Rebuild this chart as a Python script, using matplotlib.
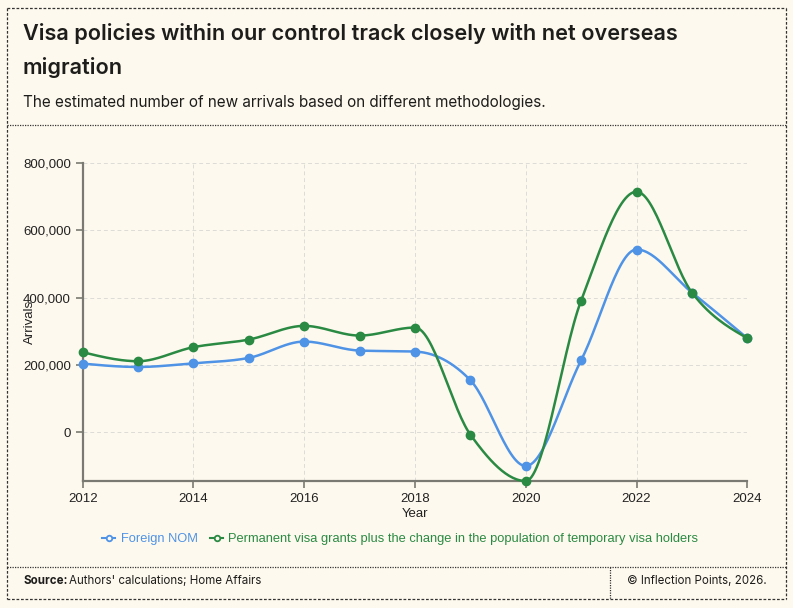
import numpy as np
import matplotlib
matplotlib.use("Agg")
import matplotlib.pyplot as plt
from matplotlib.lines import Line2D
from matplotlib.ticker import FuncFormatter

years = [2012, 2013, 2014, 2015, 2016, 2017, 2018, 2019, 2020, 2021, 2022, 2023, 2024]
foreign_nom = [204000, 194000, 205000, 221000, 269500, 242700, 239700, 154600, -100200, 214100, 543000, 415200, 279500]
visa_based = [237900, 211100, 252800, 275400, 316100, 287300, 311100, -7100, -144800, 391400, 714700, 415200, 279500]
series_names = ["Foreign NOM", "Permanent visa grants plus the change in the population of temporary visa holders"]
x_ticks = [2012, 2014, 2016, 2018, 2020, 2022, 2024]
y_ticks = [0, 200000, 400000, 600000, 800000]

BG = "#FEF9EE"
BLUE = "#4F93E6"
GREEN = "#2A8A43"
TEXT = "#1d1d1b"


def monotone_x(x, y, n=30):
    x = np.asarray(x, float)
    y = np.asarray(y, float)
    h = np.diff(x)
    s = np.diff(y) / h
    m = np.zeros(len(x))
    for i in range(1, len(x) - 1):
        s0, s1 = s[i - 1], s[i]
        p = (s0 * h[i] + s1 * h[i - 1]) / (h[i - 1] + h[i])
        m[i] = (np.sign(s0) + np.sign(s1)) * min(abs(s0), abs(s1), 0.5 * abs(p))
    m[0] = (3 * s[0] - m[1]) / 2
    m[-1] = (3 * s[-1] - m[-2]) / 2
    xs, ys = [], []
    for i in range(len(x) - 1):
        t = np.linspace(0, 1, n, endpoint=(i == len(x) - 2))
        h00 = 2 * t**3 - 3 * t**2 + 1
        h10 = t**3 - 2 * t**2 + t
        h01 = -2 * t**3 + 3 * t**2
        h11 = t**3 - t**2
        xs.append(x[i] + t * h[i])
        ys.append(h00 * y[i] + h10 * h[i] * m[i] + h01 * y[i + 1] + h11 * h[i] * m[i + 1])
    return np.concatenate(xs), np.concatenate(ys)


plt.rcParams['font.family'] = ['Liberation Sans', 'DejaVu Sans']

W, H = 793, 608
fig = plt.figure(figsize=(W / 100, H / 100), dpi=100, facecolor=BG)


def fx(px):
    return px / W


def fy(py):
    return 1 - py / H


border_kw = dict(color="#333333", lw=0.9, transform=fig.transFigure, zorder=5)
L, R, T, B = 7, 786, 8, 599
dash = (0, (2.2, 1.4))
fig.add_artist(Line2D([fx(L), fx(R)], [fy(T), fy(T)], ls=dash, **border_kw))
fig.add_artist(Line2D([fx(L), fx(R)], [fy(B), fy(B)], ls=dash, **border_kw))
fig.add_artist(Line2D([fx(L), fx(L)], [fy(T), fy(B)], ls=dash, **border_kw))
fig.add_artist(Line2D([fx(R), fx(R)], [fy(T), fy(B)], ls=dash, **border_kw))
fig.add_artist(Line2D([fx(L), fx(R)], [fy(125), fy(125)], ls=(0, (1, 1)), **border_kw))
fig.add_artist(Line2D([fx(L), fx(R)], [fy(567), fy(567)], ls=(0, (1, 1)), **border_kw))
fig.add_artist(Line2D([fx(610), fx(610)], [fy(567), fy(B)], ls=(0, (1, 1)), **border_kw))

hdr_font = ["Inter", "DejaVu Sans"]
fig.text(fx(23), fy(34), "Visa policies within our control track closely with net overseas",
         fontsize=15.6, fontweight="semibold", family=hdr_font, color=TEXT, va="center")
fig.text(fx(23), fy(68), "migration",
         fontsize=15.6, fontweight="semibold", family=hdr_font, color=TEXT, va="center")
fig.text(fx(23), fy(103), "The estimated number of new arrivals based on different methodologies.",
         fontsize=11.0, family=hdr_font, color=TEXT, va="center")

fig.text(fx(23), fy(581), "Source:", fontsize=8.3, fontweight="bold",
         family=hdr_font, color=TEXT, va="center")
fig.text(fx(69), fy(581), "Authors' calculations; Home Affairs", fontsize=8.3,
         family=hdr_font, color=TEXT, va="center")
fig.text(fx(767), fy(581), "\u00a9 Inflection Points, 2026.", fontsize=8.3,
         family=hdr_font, color=TEXT, va="center", ha="right")

ax_l, ax_r, ax_t, ax_b = 82.7, 747.3, 163, 481
ax = fig.add_axes([ax_l / W, 1 - ax_b / H, (ax_r - ax_l) / W, (ax_b - ax_t) / H])
ax.set_facecolor(BG)

for vals, col, z in [(foreign_nom, BLUE, 3), (visa_based, GREEN, 4)]:
    sx, sy = monotone_x(years, vals)
    ax.plot(sx, sy, color=col, lw=1.8, zorder=z, solid_capstyle="round", clip_on=False)
    ax.plot(years, vals, "o", color=col, ms=6, zorder=z, clip_on=False)

ymin = min(min(foreign_nom), min(visa_based))
ax.set_ylim(ymin, 800000)
ax.set_xlim(years[0], years[-1])
ax.set_xticks(x_ticks)
ax.set_yticks(y_ticks)
ax.yaxis.set_major_formatter(FuncFormatter(lambda v, p: f"{int(v):,}"))
ax.grid(True, color="#dcdcd6", ls=(0, (4, 3)), lw=0.7)
ax.set_axisbelow(True)
for sp in ["top", "right"]:
    ax.spines[sp].set_visible(False)
for sp in ["left", "bottom"]:
    ax.spines[sp].set_color("#7a7a72")
    ax.spines[sp].set_linewidth(1.6)
ax.tick_params(axis="both", colors="#7a7a72", length=5, width=1.2, labelsize=9.5, labelcolor="#222222")
ax.set_xlabel("Year", fontsize=9.5, color="#222222", labelpad=2)
ax.set_ylabel("Arrivals", fontsize=9.5, color="#222222")
ax.yaxis.set_label_coords((36 - ax_l) / (ax_r - ax_l), 0.5)

handles = [Line2D([0], [0], color=c, lw=1.5, marker="o", ms=4, markerfacecolor=BG,
                  markeredgecolor=c, markeredgewidth=1.3) for c in (BLUE, GREEN)]
leg = fig.legend(handles, series_names, loc="center", bbox_to_anchor=(0.505, fy(539)), ncol=2,
                 frameon=False, fontsize=9.3, handlelength=1.0, handletextpad=0.4, columnspacing=1.0)
for t, c in zip(leg.get_texts(), (BLUE, GREEN)):
    t.set_color(c)

fig.savefig("out.png", dpi=100, facecolor=BG)
